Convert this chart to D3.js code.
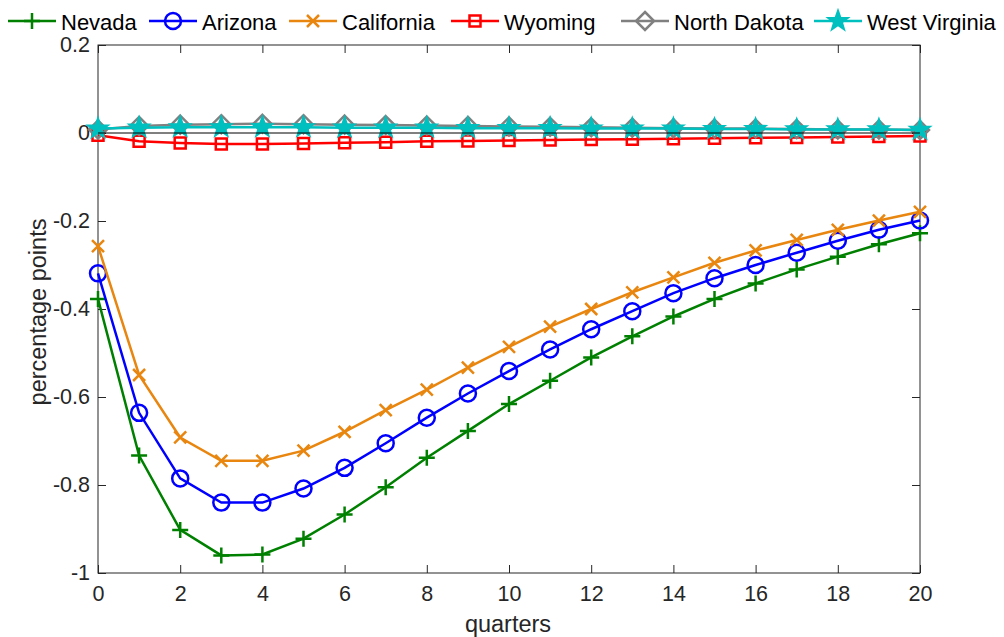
<!DOCTYPE html>
<html><head><meta charset="utf-8">
<script src="https://cdn.jsdelivr.net/npm/d3@7"></script>
<style>body{margin:0;background:#fff}svg{display:block}text{font-family:"Liberation Sans",Arial,sans-serif}</style>
</head><body><svg id="c" width="1004" height="637"></svg>
<script>
const quarters = d3.range(0, 21);
const nevada = [-0.377,-0.733,-0.902,-0.960,-0.958,-0.922,-0.867,-0.805,-0.738,-0.677,-0.616,-0.563,-0.510,-0.462,-0.417,-0.377,-0.342,-0.310,-0.281,-0.253,-0.228];
const arizona = [-0.319,-0.636,-0.785,-0.840,-0.840,-0.808,-0.761,-0.705,-0.647,-0.592,-0.541,-0.492,-0.446,-0.405,-0.364,-0.330,-0.300,-0.272,-0.245,-0.220,-0.199];
const california = [-0.257,-0.550,-0.692,-0.745,-0.745,-0.722,-0.679,-0.630,-0.583,-0.533,-0.486,-0.440,-0.400,-0.362,-0.328,-0.295,-0.267,-0.243,-0.220,-0.199,-0.179];
const wyoming = [-0.005,-0.019,-0.023,-0.025,-0.025,-0.024,-0.022,-0.021,-0.019,-0.018,-0.017,-0.016,-0.015,-0.014,-0.013,-0.012,-0.011,-0.010,-0.009,-0.008,-0.007];
const northDakota = [0.008,0.016,0.019,0.020,0.021,0.020,0.019,0.018,0.017,0.016,0.015,0.014,0.013,0.012,0.011,0.010,0.010,0.009,0.008,0.008,0.007];
const westVirginia = [0.010,0.012,0.013,0.013,0.013,0.013,0.012,0.012,0.012,0.011,0.011,0.011,0.010,0.010,0.010,0.009,0.009,0.008,0.008,0.008,0.007];
const xTicks = [0,2,4,6,8,10,12,14,16,18,20];
const yTicks = [-1,-0.8,-0.6,-0.4,-0.2,0,0.2];

const series = [
  {name:"Nevada", values:nevada, color:"#008000", marker:"plus"},
  {name:"Arizona", values:arizona, color:"#0000ff", marker:"circle"},
  {name:"California", values:california, color:"#e8860f", marker:"x"},
  {name:"Wyoming", values:wyoming, color:"#ff0000", marker:"square"},
  {name:"North Dakota", values:northDakota, color:"#808080", marker:"diamond"},
  {name:"West Virginia", values:westVirginia, color:"#00bfbf", marker:"star"}
];

const L=98, R=920, T=45, B=573;
const x = d3.scaleLinear().domain([0,20]).range([L,R]);
const y = d3.scaleLinear().domain([-1,0.2]).range([B,T]);
const svg = d3.select("#c");
const axisColor = "#262626";

function markerPath(type){
  switch(type){
    case "plus": return "M-8,0H8M0,-8V8";
    case "x": return "M-6,-6L6,6M-6,6L6,-6";
    case "circle": return "M8,0A8,8 0 1,1 -8,0A8,8 0 1,1 8,0Z";
    case "square": return "M-5.5,-5.5H5.5V5.5H-5.5Z";
    case "diamond": return "M0,-9L9,0L0,9L-9,0Z";
    case "star": {
      let p=[]; for(let i=0;i<10;i++){const r=i%2?3.8:9.5;const a=-Math.PI/2+i*Math.PI/5;p.push([r*Math.cos(a),r*Math.sin(a)]);}
      return "M"+p.map(d=>d.map(v=>v.toFixed(2)).join(",")).join("L")+"Z";
    }
  }
}

svg.append("rect").attr("x",L).attr("y",T).attr("width",R-L).attr("height",B-T)
  .attr("fill","none").attr("stroke",axisColor).attr("stroke-width",1);

const xAx = d3.axisBottom(x).tickValues(xTicks).tickSize(-8).tickPadding(13).tickFormat(d3.format("d"));
const gx = svg.append("g").attr("transform",`translate(0,${B})`).call(xAx);
const xAxTop = d3.axisTop(x).tickValues(xTicks).tickSize(-8).tickFormat("");
const gxt = svg.append("g").attr("transform",`translate(0,${T})`).call(xAxTop);
const yAx = d3.axisLeft(y).tickValues(yTicks).tickSize(-8).tickPadding(8).tickFormat(d=>d===0?"0":String(+d.toFixed(1)));
const gy = svg.append("g").attr("transform",`translate(${L},0)`).call(yAx);
const yAxR = d3.axisRight(y).tickValues(yTicks).tickSize(-8).tickFormat("");
const gyr = svg.append("g").attr("transform",`translate(${R},0)`).call(yAxR);
[gx,gxt,gy,gyr].forEach(g=>{
  g.select(".domain").remove();
  g.selectAll(".tick line").attr("stroke",axisColor);
  g.selectAll("text").attr("fill",axisColor).style("font-size","21.5px");
});

svg.append("text").attr("x",508).attr("y",632).attr("text-anchor","middle")
  .attr("fill",axisColor).style("font-size","23.5px").text("quarters");
svg.append("text").attr("transform",`translate(46,${(T+B)/2+3}) rotate(-90)`).attr("text-anchor","middle")
  .attr("fill",axisColor).style("font-size","23.5px").text("percentage points");

const line = d3.line().x((d,i)=>x(quarters[i])).y(d=>y(d));
series.forEach(s=>{
  const g = svg.append("g");
  g.append("path").attr("d",line(s.values)).attr("fill","none").attr("stroke",s.color).attr("stroke-width",2.5);
  g.selectAll("path.m").data(s.values).join("path").attr("class","m")
    .attr("transform",(d,i)=>`translate(${x(quarters[i])},${y(d)})`)
    .attr("d",markerPath(s.marker)).attr("fill",s.marker==="star"?s.color:"none").attr("stroke",s.color).attr("stroke-width",2.5);
});

svg.append("line").attr("x1",L).attr("x2",R).attr("y1",y(0)).attr("y2",y(0)).attr("stroke","#000").attr("stroke-width",1);

const legX = [8,149,289,451,621,814];
series.forEach((s,i)=>{
  const g = svg.append("g").attr("transform",`translate(${legX[i]},21)`);
  g.append("line").attr("x1",0).attr("x2",48).attr("stroke",s.color).attr("stroke-width",2.5);
  g.append("path").attr("transform","translate(24,0)").attr("d",markerPath(s.marker)).attr("fill",s.marker==="star"?s.color:"none").attr("stroke",s.color).attr("stroke-width",2.5);
  g.append("text").attr("x",53).attr("y",9).attr("fill","#000").style("font-size","22px").text(s.name);
});
</script></body></html>
